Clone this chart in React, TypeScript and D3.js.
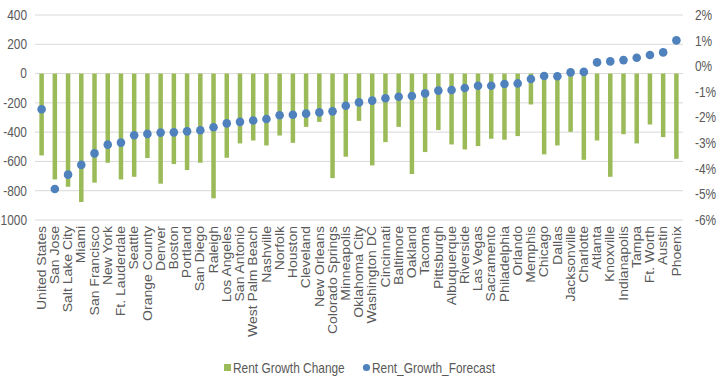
import React from "react";
import * as d3 from "d3";

const categories = [
  "United States", "San Jose", "Salt Lake City", "Miami", "San Francisco", "New York",
  "Ft. Lauderdale", "Seattle", "Orange County", "Denver", "Boston", "Portland", "San Diego",
  "Raleigh", "Los Angeles", "San Antonio", "West Palm Beach", "Nashville", "Norfolk", "Houston",
  "Cleveland", "New Orleans", "Colorado Springs", "Minneapolis", "Oklahoma City", "Washington DC",
  "Cincinnati", "Baltimore", "Oakland", "Tacoma", "Pittsburgh", "Albuquerque", "Riverside",
  "Las Vegas", "Sacramento", "Philadelphia", "Orlando", "Memphis", "Chicago", "Dallas",
  "Jacksonville", "Charlotte", "Atlanta", "Knoxville", "Indianapolis", "Tampa", "Ft. Worth",
  "Austin", "Phoenix",
];

const rentGrowthChange = [
  -559, -723, -773, -877, -745, -609, -723, -705, -577, -752, -618, -659, -609,
  -852, -575, -477, -457, -491, -423, -473, -364, -330, -714, -568, -323, -627,
  -468, -364, -686, -536, -386, -484, -518, -495, -445, -452, -427, -211, -552,
  -491, -398, -589, -457, -705, -414, -477, -348, -434, -582,
];

const rentGrowthForecast = [
  -1.68, -4.79, -4.23, -3.85, -3.40, -3.06, -2.98, -2.69, -2.64, -2.59, -2.58, -2.54, -2.50,
  -2.38, -2.23, -2.17, -2.12, -2.06, -1.91, -1.89, -1.85, -1.80, -1.76, -1.54, -1.41, -1.34,
  -1.25, -1.19, -1.16, -1.06, -0.95, -0.93, -0.85, -0.76, -0.76, -0.69, -0.67, -0.50, -0.38,
  -0.39, -0.24, -0.22, 0.15, 0.19, 0.24, 0.33, 0.44, 0.54, 1.01,
];

const leftTicks = [400, 200, 0, -200, -400, -600, -800, -1000];
const rightTicks = [2, 1, 0, -1, -2, -3, -4, -5, -6];

const seriesNames = ["Rent Growth Change", "Rent_Growth_Forecast"];

export default function App() {
  const W = 727, H = 383;
  const x0 = 35, x1 = 683, yTop = 15, yBot = 220;
  const x = d3.scaleBand<string>().domain(categories).range([x0, x1]).padding(0);
  const yL = d3.scaleLinear().domain([-1000, 400]).range([yBot, yTop]);
  const yR = d3.scaleLinear().domain([-6, 2]).range([yBot, yTop]);
  const green = "#9BBB59";
  const blue = "#4F81BD";
  const txt = "#595959";
  const sx = 0.85;
  const font = "'Liberation Sans', Arial, sans-serif";
  const barW = 4.5;

  return (
    <svg width={W} height={H} style={{ position: "absolute", left: 0, top: 0, background: "#fff" }} fontFamily={font}>
      {leftTicks.map((t) => (
        <line key={"g" + t} x1={x0} x2={x1} y1={yL(t)} y2={yL(t)} stroke="#D9D9D9" strokeWidth={1} />
      ))}
      {leftTicks.map((t) => (
        <text key={"l" + t} transform={`translate(27,${yL(t)}) scale(${sx},1)`} textAnchor="end" dy="0.35em" fontSize={14} fill={txt}>
          {t}
        </text>
      ))}
      {rightTicks.map((t) => (
        <text key={"r" + t} transform={`translate(695,${yR(t)}) scale(${sx},1)`} textAnchor="start" dy="0.35em" fontSize={14} fill={txt}>
          {t + "%"}
        </text>
      ))}
      {categories.map((c, i) => {
        const cx = (x(c) as number) + x.bandwidth() / 2;
        const v = rentGrowthChange[i];
        return (
          <rect key={"b" + c} x={cx - barW / 2} width={barW} y={yL(0)} height={yL(v) - yL(0)} fill={green} />
        );
      })}
      {categories.map((c, i) => {
        const cx = (x(c) as number) + x.bandwidth() / 2;
        return <circle key={"d" + c} cx={cx} cy={yR(rentGrowthForecast[i])} r={4.3} fill={blue} />;
      })}
      {categories.map((c) => {
        const cx = (x(c) as number) + x.bandwidth() / 2;
        return (
          <text key={"c" + c} transform={`translate(${cx},226) scale(${sx},1) rotate(-90)`} textAnchor="end" dy="0.35em" fontSize={14} fill={txt}>
            {c}
          </text>
        );
      })}
      <rect x={224} y={364} width={7} height={7} fill={green} />
      <text transform={`translate(233,373) scale(${sx},1)`} fontSize={14} fill={txt}>{seriesNames[0]}</text>
      <circle cx={366.5} cy={367.5} r={3.6} fill={blue} />
      <text transform={`translate(372,373) scale(${sx},1)`} fontSize={14} fill={txt}>{seriesNames[1]}</text>
    </svg>
  );
}
